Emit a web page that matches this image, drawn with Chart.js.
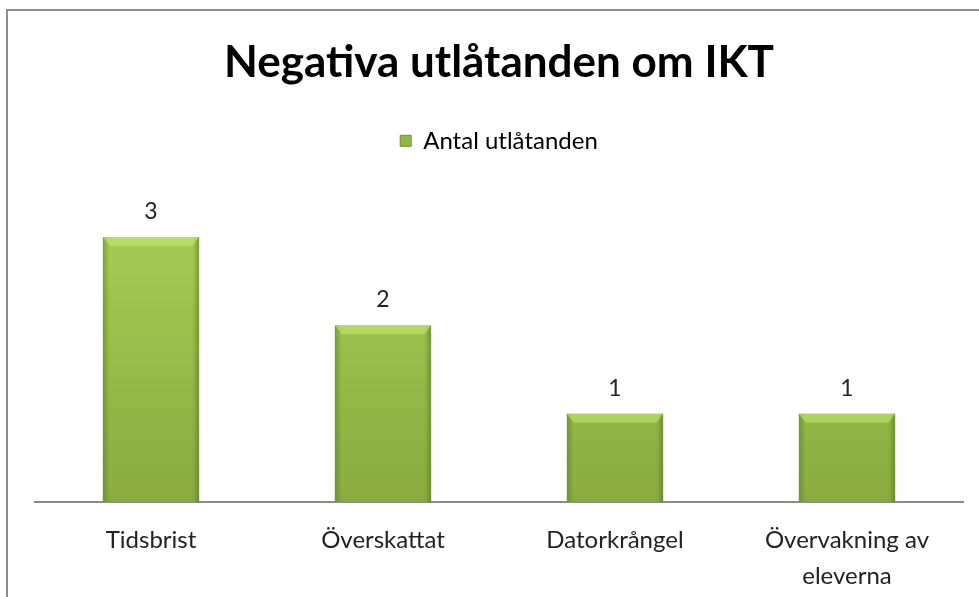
<!DOCTYPE html>
<html>
<head>
<meta charset="utf-8">
<script src="https://cdn.jsdelivr.net/npm/chart.js@4.4.1/dist/chart.umd.min.js"></script>
<style>
    html, body { margin: 0; padding: 0; background: #fff; }
    #wrap { width: 979px; height: 597px; position: relative; }
</style>
</head>
<body>
<div id="wrap"><canvas id="chart"></canvas></div>
<script>
// --- data ---
const categories = ['Tidsbrist', 'Överskattat', 'Datorkrångel', ['Övervakning av', 'eleverna']];
const counts = [3, 2, 1, 1];
const seriesName = 'Antal utlåtanden';
const chartTitle = 'Negativa utlåtanden om IKT';

const FONT = 'Lato, "Open Sans", sans-serif';

// vertical gradient for the bars (light top -> darker bottom)
function barFill(ctx) {
    const chart = ctx.chart;
    const area = chart.chartArea;
    if (!area) return '#98bd4b';
    const g = chart.ctx.createLinearGradient(0, area.top, 0, area.bottom);
    g.addColorStop(0, '#a8d158');
    g.addColorStop(1, '#89ab3f');
    return g;
}

// frame of the chart object (only top and left edges are visible)
const framePlugin = {
    id: 'frame',
    beforeDraw(chart) {
        const c = chart.ctx;
        c.save();
        c.strokeStyle = '#8c8c8c';
        c.lineWidth = 2;
        c.beginPath();
        c.moveTo(7, chart.height);
        c.lineTo(7, 10);
        c.lineTo(chart.width, 10);
        c.stroke();
        c.restore();
    }
};

// bevel look + value labels
const bevelPlugin = {
    id: 'bevel',
    afterDatasetsDraw(chart) {
        const c = chart.ctx;
        const meta = chart.getDatasetMeta(0);
        c.save();
        meta.data.forEach((bar, i) => {
            const left = bar.x - bar.width / 2;
            const right = bar.x + bar.width / 2;
            const top = bar.y;
            const bottom = bar.base;
            const b = 7;
            // side shading
            const side = c.createLinearGradient(left, 0, right, 0);
            side.addColorStop(0, 'rgba(80,110,30,0.45)');
            side.addColorStop(0.07, 'rgba(80,110,30,0.0)');
            side.addColorStop(0.93, 'rgba(80,110,30,0.0)');
            side.addColorStop(1, 'rgba(80,110,30,0.5)');
            c.fillStyle = side;
            c.fillRect(left, top, right - left, bottom - top);
            // top bevel
            c.fillStyle = 'rgba(195,232,115,0.6)';
            c.beginPath();
            c.moveTo(left, top);
            c.lineTo(right, top);
            c.lineTo(right - b, top + b + 2);
            c.lineTo(left + b, top + b + 2);
            c.closePath();
            c.fill();
            // value label
            c.fillStyle = '#222';
            c.font = '23px ' + FONT;
            c.textAlign = 'center';
            c.textBaseline = 'alphabetic';
            c.fillText(String(counts[i]), bar.x, top - 18);
        });
        c.restore();
    }
};

// extra room under the legend
const legendGap = {
    id: 'legendGap',
    beforeInit(chart) {
        const fit = chart.legend.fit;
        chart.legend.fit = function () {
            fit.call(this);
            this.height += 30;
        };
    }
};

new Chart(document.getElementById('chart'), {
    type: 'bar',
    data: {
        labels: categories,
        datasets: [{
            label: seriesName,
            data: counts,
            backgroundColor: barFill,
            borderWidth: 0,
            categoryPercentage: 1.0,
            barPercentage: 0.415
        }]
    },
    options: {
        responsive: true,
        maintainAspectRatio: false,
        animation: false,
        layout: { padding: { left: 35, right: 16, top: 0, bottom: 0 } },
        plugins: {
            title: {
                display: true,
                text: chartTitle,
                color: '#000',
                font: { family: FONT, size: 44, weight: 'bold' },
                padding: { top: 36, bottom: 32 }
            },
            legend: {
                display: true,
                position: 'top',
                labels: {
                    color: '#222',
                    font: { family: FONT, size: 24 },
                    boxWidth: 11,
                    boxHeight: 11,
                    padding: 8,
                    generateLabels: () => [{
                        text: seriesName,
                        fillStyle: '#8fb646',
                        strokeStyle: '#6e8f2e',
                        lineWidth: 1,
                        datasetIndex: 0
                    }]
                }
            },
            tooltip: { enabled: false }
        },
        scales: {
            x: {
                grid: { display: false, drawTicks: false },
                border: { display: true, color: '#8a8a8a', width: 2 },
                ticks: {
                    color: '#222',
                    font: { family: FONT, size: 24, lineHeight: 1.5 },
                    padding: 20,
                    maxRotation: 0
                },
                afterFit(scale) { scale.height = 95; }
            },
            y: {
                display: false,
                min: 0,
                max: 3.5
            }
        }
    },
    plugins: [framePlugin, bevelPlugin, legendGap]
});
</script>
</body>
</html>
